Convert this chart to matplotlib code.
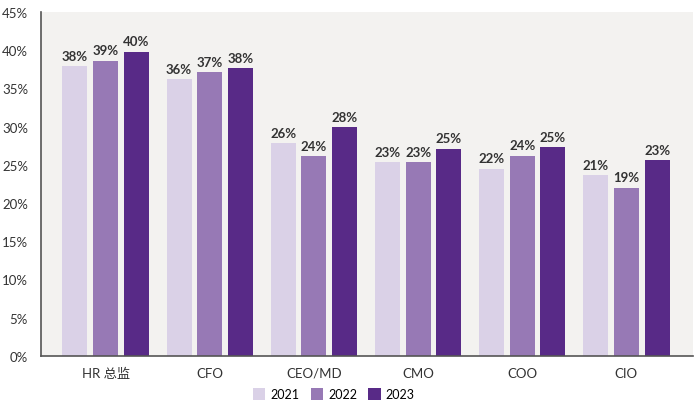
import matplotlib.pyplot as plt
import numpy as np

plt.rcParams['font.family'] = ['Lato', 'Noto Sans CJK SC', 'DejaVu Sans']

categories = ['HR 总监', 'CFO', 'CEO/MD', 'CMO', 'COO', 'CIO']
years = ['2021', '2022', '2023']
# bar heights as drawn (%)
v2021 = [37.9, 36.2, 27.8, 25.3, 24.5, 23.6]
v2022 = [38.6, 37.1, 26.1, 25.3, 26.2, 22.0]
v2023 = [39.8, 37.6, 29.9, 27.1, 27.3, 25.6]
# value labels as printed
l2021 = ['38%', '36%', '26%', '23%', '22%', '21%']
l2022 = ['39%', '37%', '24%', '23%', '24%', '19%']
l2023 = ['40%', '38%', '28%', '25%', '25%', '23%']

colors = ['#dad1e7', '#9779b5', '#582a87']

fig = plt.figure(figsize=(7, 4.14), dpi=100)
ax = fig.add_axes([0.058, 0.138, 0.932, 0.831])
ax.set_facecolor('#f3f2f0')

x = np.arange(len(categories))
w = 0.24
step = 0.295
for i, (vals, labs) in enumerate(zip([v2021, v2022, v2023], [l2021, l2022, l2023])):
    bars = ax.bar(x + (i - 1) * step, vals, w, color=colors[i], label=years[i], zorder=2)
    for b, lab in zip(bars, labs):
        ax.text(b.get_x() + b.get_width() / 2, b.get_height() + 0.6, lab,
                ha='center', va='bottom', fontsize=9.5, fontweight='bold', color='#333333')

ax.set_xlim(-0.625, 5.64)
ax.set_ylim(0, 45)
ax.set_yticks(range(0, 46, 5))
ax.set_yticklabels([f'{t}%' for t in range(0, 46, 5)], fontsize=9.5, color='#333333')
ax.set_xticks(x)
ax.set_xticklabels(categories, fontsize=9.5, color='#333333')
ax.tick_params(length=0, pad=8)
ax.tick_params(axis='y', pad=9)
for s in ['top', 'right']:
    ax.spines[s].set_visible(False)
for s in ['left', 'bottom']:
    ax.spines[s].set_color('#555555')
    ax.spines[s].set_linewidth(1.2)

fig.legend(loc='center', bbox_to_anchor=(0.477, 0.045), ncol=3, frameon=False,
           fontsize=9, handlelength=1.0, handleheight=1.1, columnspacing=0.9, handletextpad=0.4)

plt.savefig('out.png', dpi=100)
